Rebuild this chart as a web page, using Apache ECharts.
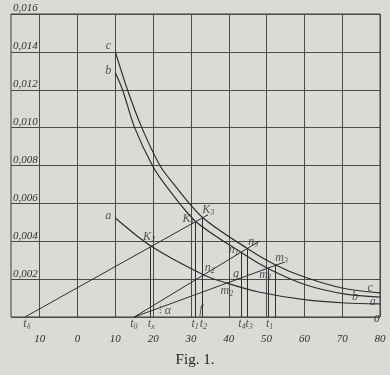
<!DOCTYPE html>
<html>
<head>
<meta charset="utf-8">
<script src="https://cdn.jsdelivr.net/npm/echarts@6/dist/echarts.min.js"></script>
<style>
html, body { margin: 0; padding: 0; background: #dadad7; }
#main { width: 390px; height: 375px; }
</style>
</head>
<body>
<div id="main"></div>
<script>
// Kurven a, b, c  [t, Wert]
var curveA = [[10, 0.00523], [19.4, 0.00375], [33.4, 0.00222], [39.5, 0.00179], [47.9, 0.00132], [60.5, 0.0009], [70.8, 0.00074], [80, 0.00069]]
var curveB = [[10, 0.0129], [11.9, 0.0120], [15.1, 0.0100], [19.8, 0.0080], [23.5, 0.0069], [31.2, 0.00506], [43.2, 0.00342], [50.5, 0.00255], [60.5, 0.00169], [70.8, 0.00121], [80, 0.00105]]
var curveC = [[10, 0.0140], [13.2, 0.0120], [17, 0.0100], [21.8, 0.0080], [25.5, 0.0070], [33, 0.00527], [44.9, 0.00362], [52.4, 0.00275], [60, 0.00211], [70, 0.00153], [80, 0.00127]]

// Geraden
var lineDelta = [[-13.9, 0], [34.5, 0.0054]]
var lineN = [[15, 0], [48.2, 0.00402]]
var lineM = [[15, 0], [54.7, 0.0029]]
var lineAlpha = [[21.9, 0.0002], [21.9, 0.0007]]

// Lote: [t, Wert]
var drops = [[19.2, 0.00375], [31.2, 0.00506], [33, 0.00527], [43.2, 0.00342], [44.9, 0.00362], [50.5, 0.00257], [52.4, 0.00275]]

// Achsen
var xTicks = [-10, 0, 10, 20, 30, 40, 50, 60, 70, 80]

// Beschriftungen: [t, Wert, Text, Lage]
var pointLabels = [
  [10, 0.0140, 'c', 'topLeft'],
  [10, 0.0129, 'b', 'left'],
  [10, 0.00523, 'a', 'left'],
  [77.4, 0.00153, 'c', 'c'],
  [73.4, 0.00106, 'b', 'c'],
  [78.1, 0.00079, 'a', 'c'],
  [19.4, 0.00375, '{i|K}{s|2}', 'top'],
  [31.2, 0.00506, '{i|K}{s|1}', 'left'],
  [33, 0.00527, '{i|K}{s|3}', 'topRight'],
  [43.2, 0.00342, '{i|n}{s|1}', 'left'],
  [44.9, 0.00362, '{i|n}{s|3}', 'topRight'],
  [33.4, 0.00222, '{i|n}{s|2}', 'topRight'],
  [41.9, 0.00227, 'g', 'c'],
  [39.5, 0.00179, '{i|m}{s|2}', 'bottom'],
  [50.5, 0.00257, '{i|m}{s|1}', 'bottomLeft'],
  [52.4, 0.00275, '{i|m}{s|3}', 'topRight'],
  [32.65, 0.00037, 'f', 'c'],
  [23.9, 0.0003, 'α', 'c']
]
var tLabels = [
  [-13.4, '{i|t}{s|δ}'],
  [14.9, '{i|t}{s|0}'],
  [19.5, '{i|t}{s|x}'],
  [31.1, '{i|t}{s|1}'],
  [33.3, '{i|t}{s|2}'],
  [43.5, '{i|t}{s|4}'],
  [45.4, '{i|t}{s|3}'],
  [50.8, '{i|t}{s|1}']
]

var ink = '#2e2e2e'
var serif = 'Liberation Serif'
var rich = {
  i: { fontFamily: serif, fontStyle: 'italic', fontSize: 12, color: ink },
  s: { fontFamily: serif, fontStyle: 'italic', fontSize: 8, color: ink, padding: [6, 0, 0, 0] }
}

var offsets = {
  topLeft: [-7, -6], left: [-7, -2], top: [-2, -9], topRight: [6, -7],
  bottom: [0, 8], bottomLeft: [-3, 7], c: [0, 0]
}

function lineSeries(data, w) {
  return {
    type: 'line', data: data, symbol: 'none', silent: true,
    lineStyle: { color: ink, width: w || 1 }
  }
}

var myChart = echarts.init(document.getElementById('main'))
myChart.setOption({
  backgroundColor: '#dadad7',
  animation: false,
  grid: { left: 11, right: 10, top: 14, bottom: 58, show: true, borderColor: '#3c3c3c', borderWidth: 1 },
  xAxis: {
    type: 'value', min: -17.6, max: 80,
    axisLine: { show: false },
    axisTick: { show: false, customValues: xTicks },
    splitLine: { show: true, lineStyle: { color: '#4a4a4a', width: 1 } },
    axisLabel: {
      customValues: xTicks, margin: 17,
      fontFamily: serif, fontStyle: 'italic', fontSize: 11, color: ink,
      formatter: function (v) { return String(Math.abs(v)) }
    }
  },
  yAxis: {
    type: 'value', min: 0, max: 0.016, interval: 0.002,
    axisLine: { show: false },
    axisTick: { show: false },
    splitLine: { show: true, lineStyle: { color: '#4a4a4a', width: 1 } },
    axisLabel: {
      inside: true, margin: 2, verticalAlign: 'bottom', showMaxLabel: true,
      fontFamily: serif, fontStyle: 'italic', fontSize: 11, color: ink,
      formatter: function (v) { return v === 0 ? '' : v.toFixed(3).replace('.', ',') }
    }
  },
  series: [
    Object.assign(lineSeries(curveA, 1.2), { smooth: 0.3 }),
    Object.assign(lineSeries(curveB, 1.2), { smooth: 0.3 }),
    Object.assign(lineSeries(curveC, 1.2), { smooth: 0.3 }),
    lineSeries(lineDelta),
    lineSeries(lineN),
    lineSeries(lineM),
    Object.assign(lineSeries(lineAlpha), { lineStyle: { color: ink, width: 1, type: [1, 2] } }),
    {
      type: 'line', data: [], silent: true,
      markLine: {
        symbol: 'none', silent: true, animation: false,
        label: { show: false },
        lineStyle: { color: ink, width: 1, type: 'solid' },
        data: drops.map(function (d) { return [{ coord: [d[0], 0] }, { coord: [d[0], d[1]] }] })
      }
    },
    {
      type: 'scatter', symbolSize: 0, silent: true,
      data: pointLabels.map(function (d) { return { value: [d[0], d[1]], name: d[2], pos: d[3] } }),
      label: {
        show: true, position: 'inside', rich: rich,
        fontFamily: serif, fontStyle: 'italic', fontSize: 12, color: ink,
        formatter: function (p) { return p.name }
      },
      labelLayout: function (p) {
        var d = pointLabels[p.dataIndex]
        var o = offsets[d[3]]
        return { dx: o[0], dy: o[1] }
      }
    },
    {
      type: 'scatter', symbolSize: 0, silent: true,
      data: tLabels.map(function (d) { return { value: [d[0], 0], name: d[1] } }),
      label: {
        show: true, position: 'bottom', distance: 0, rich: rich,
        formatter: function (p) { return p.name }
      }
    }
  ],
  graphic: [
    { type: 'text', left: 374, top: 314, style: { text: '0', font: 'italic 11px "Liberation Serif"', fill: ink } },
    { type: 'text', left: 'center', top: 353, style: { text: 'Fig. 1.', font: '15px "Liberation Serif"', fill: '#222' } }
  ]
})
</script>
</body>
</html>
